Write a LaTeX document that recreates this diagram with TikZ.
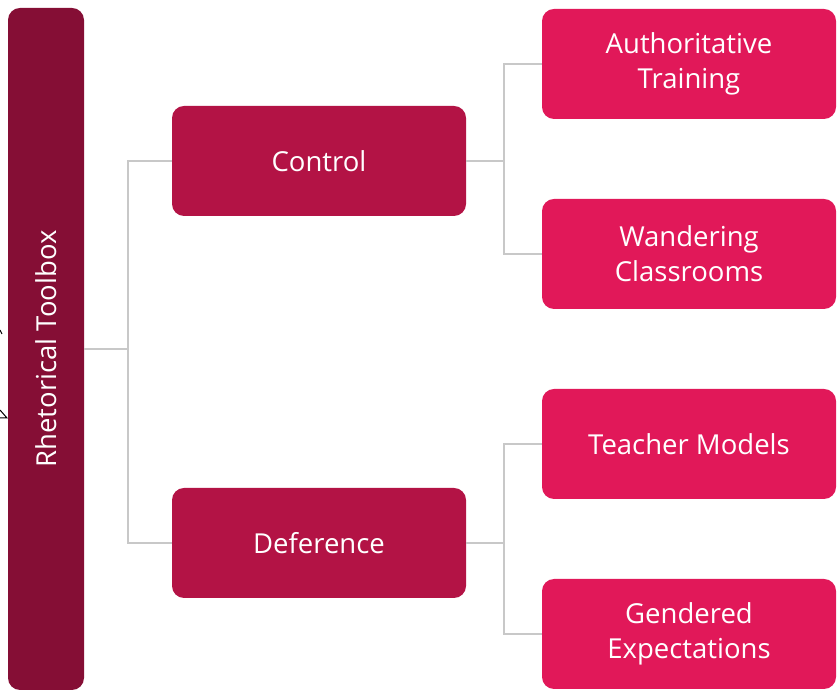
\documentclass[tikz,border=0pt]{standalone}
\usepackage{fontspec}
\setmainfont{Open Sans}
\definecolor{barred}{RGB}{133,14,53}
\definecolor{midred}{RGB}{179,19,69}
\definecolor{lightred}{RGB}{225,24,89}
\definecolor{linegray}{RGB}{200,200,200}

\begin{document}
\begin{tikzpicture}[x=1pt, y=1pt,
    box/.style={rounded corners=12pt, text=white, align=center, font=\fontsize{27.5}{35}\selectfont,
                minimum width=294pt, minimum height=110pt, inner sep=0pt},
    topic/.style={box, fill=midred},
    leaf/.style={box, fill=lightred},
    conn/.style={linegray, line width=1.6pt}]
    \useasboundingbox (0,0) rectangle (837,692);

    \node[box, fill=barred, rotate=90, minimum width=682pt, minimum height=76pt] (root) at (46,343) {Rhetorical Toolbox};

    \node[topic] (ctrl) at (319,531) {Control};
    \node[topic] (defer) at (319,149) {Deference};

    \node[leaf] (auth) at (689,628) {Authoritative\\Training};
    \node[leaf] (wander) at (689,438) {Wandering\\Classrooms};
    \node[leaf] (teach) at (689,248) {Teacher Models};
    \node[leaf] (gender) at (689,58) {Gendered\\Expectations};

    \draw[conn] (root.south) -- ++(44,0) |- (ctrl.west);
    \draw[conn] (root.south) -- ++(44,0) |- (defer.west);
    \draw[conn] (ctrl.east) -- ++(38,0) |- (auth.west);
    \draw[conn] (ctrl.east) -- ++(38,0) |- (wander.west);
    \draw[conn] (defer.east) -- ++(38,0) |- (teach.west);
    \draw[conn] (defer.east) -- ++(38,0) |- (gender.west);

    \draw[black, line width=1pt] (0,362) -- (2,358);
    \draw[black, line width=1pt] (0,282) -- (7,274) -- (0,274);
    \end{tikzpicture}
\end{document}
